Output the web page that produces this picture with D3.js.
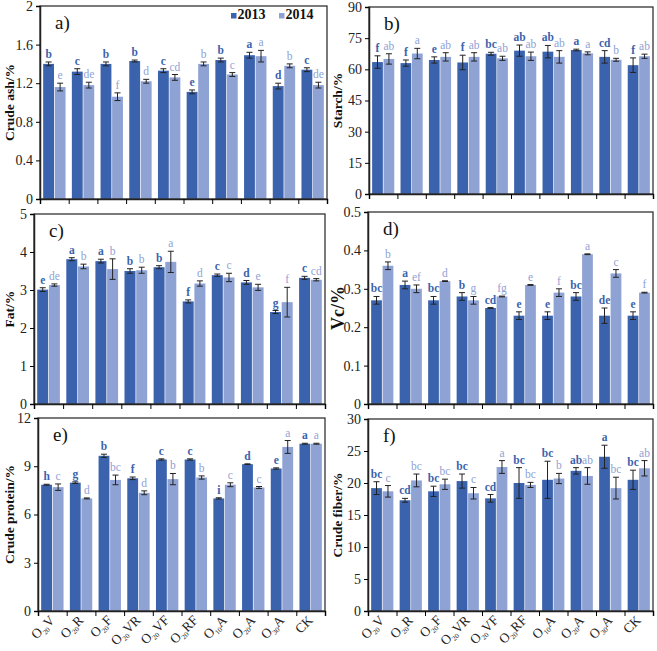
<!DOCTYPE html>
<html>
<head>
<meta charset="utf-8">
<script src="https://cdn.jsdelivr.net/npm/d3@7"></script>
<style>
	body {margin: 0; background: #fff;}
	svg {display: block;}
	svg text {font-family: 'Liberation Serif', 'Times New Roman', 'DejaVu Serif', serif !important;}
</style>
</head>
<body>
<div id="chart"></div>
<script>

var categories = ['O20V', 'O20R', 'O20F', 'O20VR', 'O20VF', 'O20RF', 'O10A', 'O20A', 'O30A', 'CK'];
var years = ['2013', '2014'];

// a) crude ash
var ashMean2013 = [1.40, 1.32, 1.40, 1.43, 1.33, 1.11, 1.44, 1.49, 1.17, 1.34];
var ashMean2014 = [1.16, 1.18, 1.06, 1.22, 1.26, 1.40, 1.29, 1.48, 1.38, 1.18];
var ashErr2013 = [0.02, 0.03, 0.02, 0.01, 0.02, 0.02, 0.02, 0.03, 0.03, 0.02];
var ashErr2014 = [0.04, 0.03, 0.04, 0.02, 0.03, 0.02, 0.02, 0.06, 0.02, 0.03];
var ashSig2013 = ['b', 'c', 'b', 'b', 'c', 'e', 'b', 'a', 'd', 'c'];
var ashSig2014 = ['e', 'de', 'f', 'd', 'cd', 'b', 'c', 'a', 'b', 'de'];
var ashTicks = [0, 0.4, 0.8, 1.2, 1.6, 2];

// b) starch
var starchMean2013 = [63.5, 63.0, 64.5, 63.3, 67.5, 69.0, 68.5, 69.3, 66.0, 62.0];
var starchMean2014 = [65.0, 67.6, 66.0, 66.0, 65.3, 66.3, 66.0, 67.7, 64.6, 66.3];
var starchErr2013 = [3.0, 1.5, 1.5, 3.5, 0.7, 2.7, 3.0, 0.4, 3.0, 3.5];
var starchErr2014 = [2.5, 2.5, 2.0, 2.0, 1.0, 2.0, 3.0, 0.7, 0.7, 1.0];
var starchSig2013 = ['f', 'f', 'e', 'f', 'bc', 'ab', 'ab', 'a', 'cd', 'f'];
var starchSig2014 = ['ab', 'a', 'ab', 'ab', 'ab', 'ab', 'ab', 'a', 'b', 'ab'];
var starchTicks = [0, 15, 30, 45, 60, 75, 90];

// c) fat
var fatMean2013 = [3.01, 3.81, 3.76, 3.50, 3.60, 2.70, 3.39, 3.20, 2.42, 3.32];
var fatMean2014 = [3.13, 3.62, 3.55, 3.52, 3.74, 3.17, 3.33, 3.07, 2.68, 3.27];
var fatErr2013 = [0.05, 0.04, 0.05, 0.06, 0.04, 0.04, 0.03, 0.05, 0.04, 0.04];
var fatErr2014 = [0.03, 0.06, 0.27, 0.08, 0.28, 0.07, 0.11, 0.08, 0.39, 0.03];
var fatSig2013 = ['e', 'a', 'a', 'b', 'b', 'f', 'c', 'd', 'g', 'c'];
var fatSig2014 = ['de', 'b', 'b', 'b', 'a', 'd', 'c', 'e', 'f', 'cd'];
var fatTicks = [0, 1, 2, 3, 4, 5];

// d) vitamin C
var vcMean2013 = [0.27, 0.31, 0.27, 0.28, 0.25, 0.23, 0.23, 0.28, 0.23, 0.23];
var vcMean2014 = [0.36, 0.30, 0.32, 0.27, 0.28, 0.31, 0.29, 0.39, 0.34, 0.29];
var vcErr2013 = [0.01, 0.01, 0.01, 0.01, 0.001, 0.01, 0.01, 0.01, 0.02, 0.01];
var vcErr2014 = [0.01, 0.01, 0.001, 0.01, 0.001, 0.001, 0.01, 0.001, 0.01, 0.001];
var vcSig2013 = ['bc', 'a', 'bc', 'b', 'cd', 'e', 'e', 'bc', 'de', 'e'];
var vcSig2014 = ['b', 'ef', 'd', 'g', 'fg', 'e', 'f', 'a', 'c', 'f'];
var vcTicks = [0, 0.1, 0.2, 0.3, 0.4, 0.5];

// e) crude protein
var protMean2013 = [7.85, 7.98, 9.65, 8.25, 9.42, 9.42, 7.00, 9.13, 8.86, 10.40];
var protMean2014 = [7.70, 7.00, 8.15, 7.35, 8.20, 8.30, 7.85, 7.68, 10.20, 10.40];
var protErr2013 = [0.03, 0.05, 0.10, 0.08, 0.04, 0.04, 0.04, 0.02, 0.04, 0.03];
var protErr2014 = [0.20, 0.03, 0.30, 0.12, 0.35, 0.10, 0.12, 0.06, 0.40, 0.03];
var protSig2013 = ['h', 'g', 'b', 'f', 'c', 'c', 'i', 'd', 'e', 'a'];
var protSig2014 = ['c', 'd', 'bc', 'd', 'b', 'b', 'c', 'c', 'a', 'a'];
var protTicks = [0, 3, 6, 9, 12];

// f) crude fiber
var fiberMean2013 = [19.2, 17.3, 18.7, 20.3, 17.6, 20.0, 20.5, 21.9, 24.1, 20.5];
var fiberMean2014 = [18.7, 20.4, 19.8, 18.4, 22.5, 19.7, 20.7, 21.1, 19.2, 22.3];
var fiberErr2013 = [1.0, 0.3, 0.8, 1.1, 0.6, 2.4, 2.9, 0.5, 1.8, 1.5];
var fiberErr2014 = [0.9, 1.0, 0.8, 0.9, 1.0, 0.4, 0.8, 1.3, 1.7, 1.2];
var fiberSig2013 = ['bc', 'cd', 'bc', 'bc', 'cd', 'bc', 'bc', 'ab', 'a', 'bc'];
var fiberSig2014 = ['c', 'bc', 'bc', 'c', 'a', 'bc', 'b', 'ab', 'bc', 'ab'];
var fiberTicks = [0, 5, 10, 15, 20, 25, 30];

var colors = {'2013': '#3B63AD', '2014': '#8FA2D4'};
var serif = "'Liberation Serif', 'Times New Roman', 'DejaVu Serif', serif";

var panels = [
	{tag: 'a)', title: 'Crude ash/%', m: [ashMean2013, ashMean2014], e: [ashErr2013, ashErr2014],
		s: [ashSig2013, ashSig2014], ticks: ashTicks, left: 40, right: 327, top: 6, bottom: 199, titleX: 9, legend: true},
	{tag: 'b)', title: 'Starch/%', m: [starchMean2013, starchMean2014], e: [starchErr2013, starchErr2014],
		s: [starchSig2013, starchSig2014], ticks: starchTicks, left: 369, right: 653, top: 7, bottom: 194, titleX: 337},
	{tag: 'c)', title: 'Fat/%', m: [fatMean2013, fatMean2014], e: [fatErr2013, fatErr2014],
		s: [fatSig2013, fatSig2014], ticks: fatTicks, left: 34, right: 325, top: 214, bottom: 404, titleX: 9},
	{tag: 'd)', title: 'Vc/%', m: [vcMean2013, vcMean2014], e: [vcErr2013, vcErr2014],
		s: [vcSig2013, vcSig2014], ticks: vcTicks, left: 368, right: 653, top: 212, bottom: 404, titleX: 338, titleSize: 18},
	{tag: 'e)', title: 'Crude protein/%', m: [protMean2013, protMean2014], e: [protErr2013, protErr2014],
		s: [protSig2013, protSig2014], ticks: protTicks, left: 38, right: 325, top: 418, bottom: 611, titleX: 9, labels: true},
	{tag: 'f)', title: 'Crude fiber/%', m: [fiberMean2013, fiberMean2014], e: [fiberErr2013, fiberErr2014],
		s: [fiberSig2013, fiberSig2014], ticks: fiberTicks, left: 368, right: 653, top: 419, bottom: 611, titleX: 337, labels: true}
];

var svg = d3.select('#chart')
	.append('svg')
	.attr('width', 657)
	.attr('height', 651)
	.style('font-family', serif);

var drawPanel = function(p) {

	var g = svg.append('g');

	var x = d3.scaleBand()
		.domain(categories)
		.range([p.left, p.right])
		.paddingInner(0.22)
		.paddingOuter(0.11);

	var xs = d3.scaleBand()
		.domain(years)
		.range([0, x.bandwidth()])
		.paddingInner(0.06);

	var y = d3.scaleLinear()
		.domain([0, p.ticks[p.ticks.length - 1]])
		.range([p.bottom, p.top]);

	// flatten both series into one list of bars
	var bars = [];
	years.forEach(function(yr, k) {
		categories.forEach(function(c, i) {
			bars.push({cat: c, year: yr, mean: p.m[k][i], err: p.e[k][i], sig: p.s[k][i]});
		});
	});

	g.selectAll('rect.bar')
		.data(bars)
		.enter()
		.append('rect')
		.attr('class', 'bar')
		.attr('x', function(d) {return x(d.cat) + xs(d.year)})
		.attr('y', function(d) {return y(d.mean)})
		.attr('width', xs.bandwidth())
		.attr('height', function(d) {return y(0) - y(d.mean)})
		.attr('fill', function(d) {return colors[d.year]});

	var cx = function(d) {return x(d.cat) + xs(d.year) + xs.bandwidth() / 2};

	var eb = g.selectAll('g.err')
		.data(bars)
		.enter()
		.append('g')
		.attr('class', 'err')
		.attr('stroke', '#222')
		.attr('stroke-width', 1);

	eb.append('line')
		.attr('x1', cx).attr('x2', cx)
		.attr('y1', function(d) {return y(d.mean - d.err)})
		.attr('y2', function(d) {return y(d.mean + d.err)});

	eb.append('line')
		.attr('x1', function(d) {return cx(d) - 3}).attr('x2', function(d) {return cx(d) + 3})
		.attr('y1', function(d) {return y(d.mean + d.err)})
		.attr('y2', function(d) {return y(d.mean + d.err)});

	eb.append('line')
		.attr('x1', function(d) {return cx(d) - 3}).attr('x2', function(d) {return cx(d) + 3})
		.attr('y1', function(d) {return y(d.mean - d.err)})
		.attr('y2', function(d) {return y(d.mean - d.err)});

	g.selectAll('text.sig')
		.data(bars)
		.enter()
		.append('text')
		.attr('class', 'sig')
		.attr('x', cx)
		.attr('y', function(d) {return y(d.mean + d.err) - 4})
		.attr('text-anchor', 'middle')
		.style('font-size', '11.5px')
		.style('font-weight', function(d) {return d.year === '2013' ? 'bold' : 'normal'})
		.attr('fill', function(d) {return colors[d.year]})
		.text(function(d) {return d.sig});

	// frame
	g.append('rect')
		.attr('x', p.left)
		.attr('y', p.top)
		.attr('width', p.right - p.left)
		.attr('height', p.bottom - p.top)
		.attr('fill', 'none')
		.attr('stroke', '#333')
		.attr('stroke-width', 1.3);

	var yAxis = d3.axisLeft(y)
		.tickValues(p.ticks)
		.tickFormat(function(d) {return String(d)})
		.tickSize(4)
		.tickPadding(3);

	var ya = g.append('g')
		.attr('transform', 'translate(' + p.left + ',0)')
		.call(yAxis)
		.attr('font-family', serif);
	ya.select('.domain').attr('stroke', '#222').attr('stroke-width', 1.5);
	ya.selectAll('text')
		.style('font-size', '14px')
		.attr('fill', '#222');

	// category boundary ticks
	var xb = d3.scaleLinear().domain([0, categories.length]).range([p.left, p.right]);
	var xAxis = d3.axisBottom(xb)
		.tickValues(d3.range(categories.length + 1))
		.tickSize(5)
		.tickFormat('');
	var xa = g.append('g')
		.attr('transform', 'translate(0,' + p.bottom + ')')
		.call(xAxis);
	xa.select('.domain').attr('stroke', '#222').attr('stroke-width', 1.5);

	if (p.labels) {
		var lab = g.selectAll('text.cat')
			.data(categories)
			.enter()
			.append('text')
			.attr('class', 'cat')
			.attr('text-anchor', 'end')
			.attr('transform', function(d) {
				return 'translate(' + (x(d) + x.bandwidth() / 2 + 3) + ',' + (p.bottom + 10) + ') rotate(-45)';
			})
			.style('font-size', '13.5px')
			.attr('fill', '#222');

		lab.each(function(d) {
			var t = d3.select(this);
			var m = d.match(/^O(\d+)(.*)$/);
			if (!m) {t.text(d); return;}
			t.append('tspan').text('O');
			t.append('tspan').attr('dy', 3).style('font-size', '7px').text(m[1]);
			t.append('tspan').attr('dy', -3).text(m[2]);
		});
	}

	g.append('text')
		.attr('transform', 'translate(' + p.titleX + ',' + ((p.top + p.bottom) / 2) + ') rotate(-90)')
		.attr('text-anchor', 'middle')
		.attr('dy', '0.35em')
		.style('font-size', (p.titleSize || 13.5) + 'px')
		.style('font-weight', 'bold')
		.attr('fill', '#111')
		.text(p.title);

	g.append('text')
		.attr('x', p.left + 15)
		.attr('y', p.top + 23)
		.style('font-size', '19px')
		.attr('fill', '#111')
		.text(p.tag);

	if (p.legend) {
		var lg = g.selectAll('g.legend')
			.data(years)
			.enter()
			.append('g')
			.attr('class', 'legend')
			.attr('transform', function(d, i) {return 'translate(' + (231 + i * 48) + ',' + (p.top + 7) + ')'});
		lg.append('rect')
			.attr('width', 5.5)
			.attr('height', 5.5)
			.attr('fill', function(d) {return colors[d]});
		lg.append('text')
			.attr('x', 6.5)
			.attr('y', 6)
			.style('font-size', '14px')
			.style('font-weight', 'bold')
			.attr('fill', '#111')
			.text(function(d) {return d});
	}
};

panels.forEach(drawPanel);

</script>
</body>
</html>
